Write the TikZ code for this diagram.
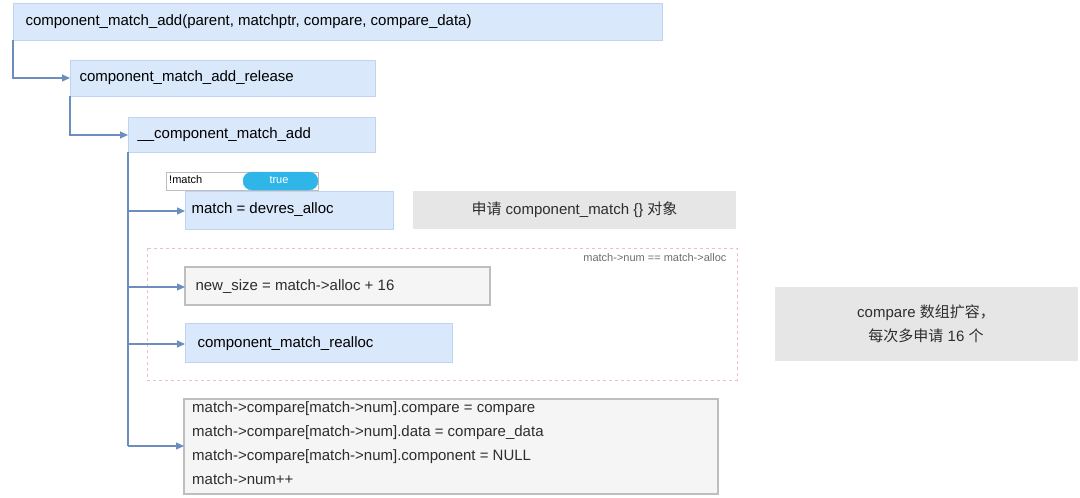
\documentclass[tikz,border=0pt]{standalone}
\usepackage{fontspec}
\usetikzlibrary{arrows.meta}
\setmainfont{Liberation Sans}
\newfontfamily\cjk{Noto Sans CJK SC}
\definecolor{bfill}{RGB}{218,232,252}
\definecolor{bdraw}{RGB}{190,212,240}
\definecolor{gfill}{RGB}{245,245,245}
\definecolor{gdraw}{RGB}{190,190,190}
\definecolor{nfill}{RGB}{230,230,230}
\definecolor{cline}{RGB}{108,142,191}
\definecolor{pill}{RGB}{47,181,232}
\definecolor{pink}{RGB}{235,190,205}
\definecolor{tdark}{RGB}{45,45,45}
\definecolor{tgray}{RGB}{110,110,110}
\begin{document}
\begin{tikzpicture}[x=1pt,y=-1pt,
  blu/.style={fill=bfill,draw=bdraw},
  gry/.style={fill=gfill,draw=gdraw,line width=1.2pt},
  conn/.style={draw=cline,line width=1.2pt},
  arr/.style={conn,-{Triangle[width=7pt,length=8pt]}},
  txt/.style={font=\fontsize{15}{18}\selectfont}]
\useasboundingbox (0,0) rectangle (1080,498);
\fill[white] (0,0) rectangle (1080,498);
% boxes
\draw[blu] (13,3) rectangle (662,40);
\node[txt,anchor=west] (t1) at (22,21.5) {component\_match\_add(parent, matchptr, compare, compare\_data)};
\draw[blu] (70,60) rectangle (375,96);
\node[txt,anchor=west] (t2) at (76,78) {component\_match\_add\_release};
\draw[blu] (128,117) rectangle (375,152);
\node[txt,anchor=west] (t3) at (134,135) {\_\_component\_match\_add};
\coordinate (b2) at (70,78); \coordinate (b3) at (128,135);
\draw[arr] (13,40) |- (b2);
\draw[arr] (70,96) |- (b3);
% condition label
\draw[draw=gdraw,fill=white] (166,172) rectangle (318,190);
\node[font=\fontsize{11}{13}\selectfont,anchor=west,inner sep=1pt] (cm) at (168,180) {!match};
\draw[fill=pill,draw=pill,rounded corners=9pt] (243,172) rectangle (318,190);
\node[font=\fontsize{11}{13}\selectfont,text=white] (tr) at (279,180) {true};
\draw[blu] (185,191) rectangle (393,229);
\node[txt,anchor=west] (m1) at (188,210) {match = devres\_alloc};
\fill[nfill] (413,191) rectangle (736,229);
\node[txt,text=tdark] (n1) at (574.5,210) {{\cjk 申请} component\_match \{\} {\cjk 对象}};
% dashed group
\draw[dashed,draw=pink,line width=0.9pt] (147,248) rectangle (737,380);
\node[font=\fontsize{11}{13}\selectfont,text=tgray,anchor=east] (gl) at (730,258) {match->num == match->alloc};
\draw[gry] (185,267) rectangle (490,305);
\node[txt,anchor=west,text=tdark] (ns) at (192,287) {new\_size = match->alloc + 16};
\draw[blu] (185,323) rectangle (452,362);
\node[txt,anchor=west] (ra) at (194,344) {component\_match\_realloc};
% big box
\draw[gry] (184,399) rectangle (718,494);
\node[anchor=north west,align=left,inner sep=0pt,text=tdark,font=\fontsize{15}{24}\selectfont] (bb) at (192,401) {match->compare[match->num].compare = compare\\match->compare[match->num].data = compare\_data\\match->compare[match->num].component = NULL\\match->num++};
% right note
\fill[nfill] (775,287) rectangle (1078,361);
\node[align=center,text=tdark,font=\fontsize{15}{24}\selectfont] (n2) at (926,324) {compare {\cjk 数组扩容，}\\{\cjk 每次多申请} 16 {\cjk 个}};
% tree connectors
\coordinate (e1) at (185,211); \coordinate (e2) at (185,287); \coordinate (e3) at (185,344); \coordinate (e4) at (184,446);
\draw[conn] (128,152) -- (128,446);
\draw[arr] (128,211) -- (e1);
\draw[arr] (128,287) -- (e2);
\draw[arr] (128,344) -- (e3);
\draw[arr] (128,446) -- (e4);
\end{tikzpicture}
\end{document}
